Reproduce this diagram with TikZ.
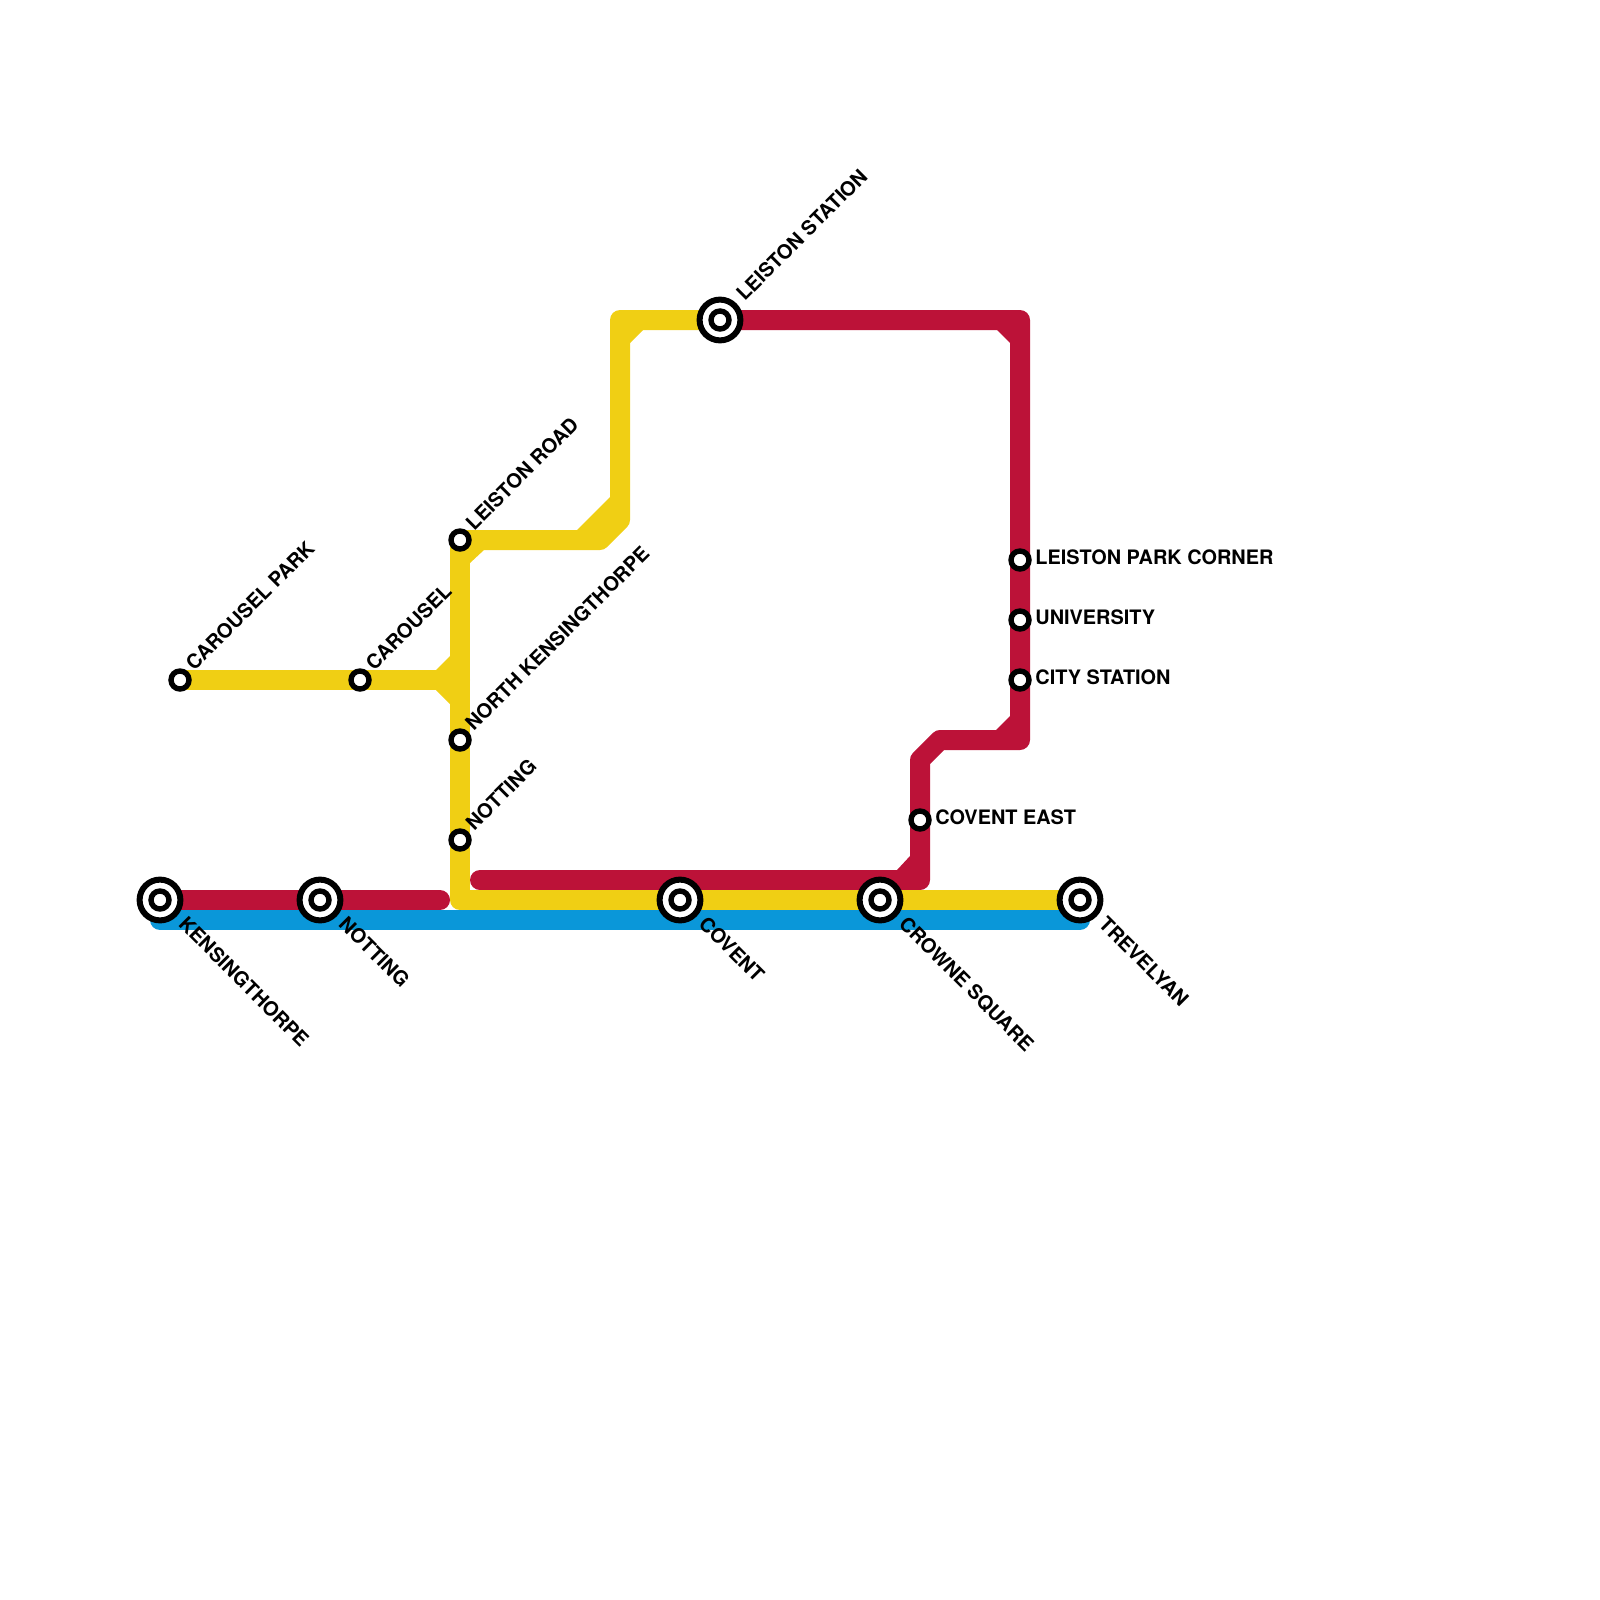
\documentclass[tikz,border=0pt]{standalone}
\usepackage{fontspec}
\setmainfont{TeX Gyre Heros}
\usetikzlibrary{calc,backgrounds}
\definecolor{redline}{HTML}{BC1238}
\definecolor{yellowline}{HTML}{F0CF14}
\definecolor{blueline}{HTML}{0A97D9}
\tikzset{
  route/.style={line width=10pt, line cap=round, line join=round},
  stop/.style={circle, draw=black, fill=white, line width=2.7pt, minimum size=9pt, inner sep=0pt},
  hub/.style={circle, draw=black, fill=white, line width=3pt, minimum size=20.4pt, inner sep=0pt},
  hubdot/.style={circle, draw=black, fill=white, line width=2.7pt, minimum size=9pt, inner sep=0pt},
  lab/.style={font=\fontsize{9.95}{10}\selectfont\bfseries, text=black, inner sep=0pt, anchor=west},
}
\begin{document}
\begin{tikzpicture}[x=0.5pt, y=-0.5pt]
  \useasboundingbox (0,0) rectangle (1600,1600);
  % interchanges
  \node[hub] (kens) at (160,900) {};
  \node[hub] (nott) at (320,900) {};
  \node[hub] (cove) at (680,900) {};
  \node[hub] (crow) at (880,900) {};
  \node[hub] (trev) at (1080,900) {};
  \node[hub] (lest) at (720,320) {};
  \node[hubdot] (kensdot) at (kens.center) {};
  \node[hubdot] (nottdot) at (nott.center) {};
  \node[hubdot] (covedot) at (cove.center) {};
  \node[hubdot] (crowdot) at (crow.center) {};
  \node[hubdot] (trevdot) at (trev.center) {};
  \node[hubdot] (lestdot) at (lest.center) {};
  % small stops
  \node[stop] (carp) at (180,680) {};
  \node[stop] (caro) at (360,680) {};
  \node[stop] (lroa) at (460,540) {};
  \node[stop] (nken) at (460,740) {};
  \node[stop] (nthe) at (460,840) {};
  \node[stop] (ceas) at (920,820) {};
  \node[stop] (lpar) at (1020,560) {};
  \node[stop] (univ) at (1020,620) {};
  \node[stop] (city) at (1020,680) {};
  % bends and loose ends
  \coordinate (y1) at (460,680);
  \coordinate (y2) at (460,900);
  \coordinate (y3) at (600,540);
  \coordinate (y4) at (620,520);
  \coordinate (y5) at (620,320);
  \coordinate (r1) at (440,900);
  \coordinate (r2) at (480,880);
  \coordinate (r3) at (920,880);
  \coordinate (r4) at (920,760);
  \coordinate (r5) at (940,740);
  \coordinate (r6) at (1020,740);
  \coordinate (r7) at (1020,320);
  \begin{scope}[on background layer]
    \draw[route, blueline] (kens.center) ++(0,20) -- ($(trev.center)+(0,20)$);
    \draw[route, redline] (kens.center) -- (nott.center) -- (r1);
    \draw[route, redline] (r2) -- (r3) -- (ceas.center) -- (r4) -- (r5) -- (r6) -- (city.center) -- (univ.center) -- (lpar.center) -- (r7) -- (lest.center);
    \draw[route, yellowline] (carp.center) -- (caro.center) -- (y1);
    \draw[route, yellowline] (lroa.center) -- (nken.center) -- (nthe.center) -- (y2) -- (cove.center) -- (crow.center) -- (trev.center);
    \draw[route, yellowline] (lroa.center) -- (y3) -- (y4) -- (y5) -- (lest.center);
    \fill[yellowline] (436,670) -- (450,656) -- (460,656) -- (460,704) -- (450,704) -- (436,690) -- cycle;
    \fill[yellowline] (470,563) -- (484,550) -- (470,540) -- cycle;
    \fill[yellowline] (577,530) -- (610,497) -- (620,520) -- (600,540) -- cycle;
    \fill[yellowline] (630,343) -- (643,330) -- (625,325) -- cycle;
    \fill[redline] (997,330) -- (1010,343) -- (1015,325) -- cycle;
    \fill[redline] (996,730) -- (1010,716) -- (1020,740) -- cycle;
    \fill[redline] (897,870) -- (910,856) -- (920,880) -- cycle;
  \end{scope}
  % labels
  \node[lab, rotate=45] (tcarp) at (189,666.5) {CAROUSEL PARK};
  \node[lab, rotate=45] (tcaro) at (369,666.5) {CAROUSEL};
  \node[lab, rotate=45] (tlroa) at (469,526.5) {LEISTON ROAD};
  \node[lab, rotate=45] (tnken) at (468.5,727) {NORTH KENSINGTHORPE};
  \node[lab, rotate=45] (tnthe) at (469,826.5) {NOTTING};
  \node[lab, rotate=45] (tlest) at (739.5,297) {LEISTON STATION};
  \node[lab, rotate=-45] (tkens) at (182.5,920) {KENSINGTHORPE};
  \node[lab, rotate=-45] (tnott) at (342.5,920) {NOTTING};
  \node[lab, rotate=-45] (tcove) at (702.5,920) {COVENT};
  \node[lab, rotate=-45] (tcrow) at (902.5,920) {CROWNE SQUARE};
  \node[lab, rotate=-45] (ttrev) at (1102.5,920) {TREVELYAN};
  \node[lab] (tceas) at (935,817.6) {COVENT EAST};
  \node[lab] (tlpar) at (1035,557.6) {LEISTON PARK CORNER};
  \node[lab] (tuniv) at (1035,617.6) {UNIVERSITY};
  \node[lab] (tcity) at (1035,677.6) {CITY STATION};
\end{tikzpicture}
\end{document}
